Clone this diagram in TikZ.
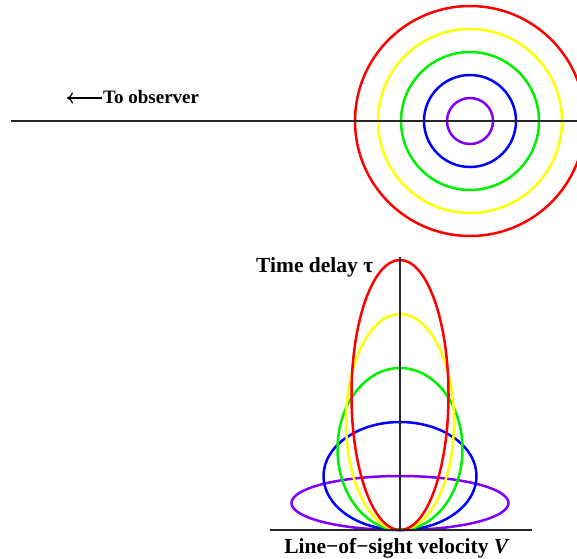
\documentclass[tikz,border=0pt]{standalone}
\usepackage{fontspec}
\setmainfont{Liberation Serif}
\usetikzlibrary{shapes.geometric,arrows.meta}
\definecolor{cpurple}{RGB}{128,0,255}
\definecolor{cblue}{RGB}{0,0,255}
\definecolor{cgreen}{RGB}{0,240,0}
\definecolor{cyellow}{RGB}{255,255,0}
\definecolor{cred}{RGB}{255,0,0}
\begin{document}
\begin{tikzpicture}[x=1pt,y=-1pt,
  ring/.style={circle,draw=#1,line width=2.5pt,inner sep=0pt},
  orbit/.style={ellipse,draw=#1,line width=2.5pt,inner sep=0pt},
  axisline/.style={line width=1.8pt,black!85},
  lbl/.style={font=\bfseries\fontsize{21.5}{25}\selectfont,inner sep=0pt},
  smalllbl/.style={font=\bfseries\fontsize{19}{22}\selectfont,inner sep=0pt}]
\useasboundingbox (0,0) rectangle (577,558);
% top: rings
\node[ring=cred,minimum size=230pt] (r5) at (470,121) {};
\node[ring=cyellow,minimum size=184pt] (r4) at (470,121) {};
\node[ring=cgreen,minimum size=138pt] (r3) at (470,121) {};
\node[ring=cblue,minimum size=92pt] (r2) at (470,121) {};
\node[ring=cpurple,minimum size=46pt] (r1) at (470,121) {};
\coordinate (losL) at (11,121);
\coordinate (losR) at (577,121);
\draw[axisline] (losL) -- (losR);
\node[smalllbl,anchor=base west] (obs) at (103,103) {To observer};
\coordinate (arrEnd) at (67,98);
\draw[line width=1.2pt,-{To[length=6pt,width=11pt]}] (obs.west |- arrEnd) ++(-1,0) -- (arrEnd);
% bottom: ellipses
\node[orbit=cpurple,minimum width=217pt,minimum height=54pt] (e1) at (400,503) {};
\node[orbit=cblue,minimum width=153pt,minimum height=108pt] (e2) at (400,476) {};
\node[orbit=cgreen,minimum width=125pt,minimum height=162pt] (e3) at (400,449) {};
\node[orbit=cyellow,minimum width=108pt,minimum height=216pt] (e4) at (400,422) {};
\node[orbit=cred,minimum width=97pt,minimum height=270pt] (e5) at (400,395) {};
\coordinate (vTop) at (400,257);
\coordinate (vBot) at (400,530);
\coordinate (hL) at (270,530);
\coordinate (hR) at (532,530);
\draw[axisline] (vTop) -- (vBot);
\draw[axisline] (hL) -- (hR);
\node[lbl,anchor=base west] (tau) at (256,272) {Time delay τ};
\node[lbl,anchor=base] (vel) at (397,553) {Line−of−sight velocity \textit{V}};
\end{tikzpicture}
\end{document}
